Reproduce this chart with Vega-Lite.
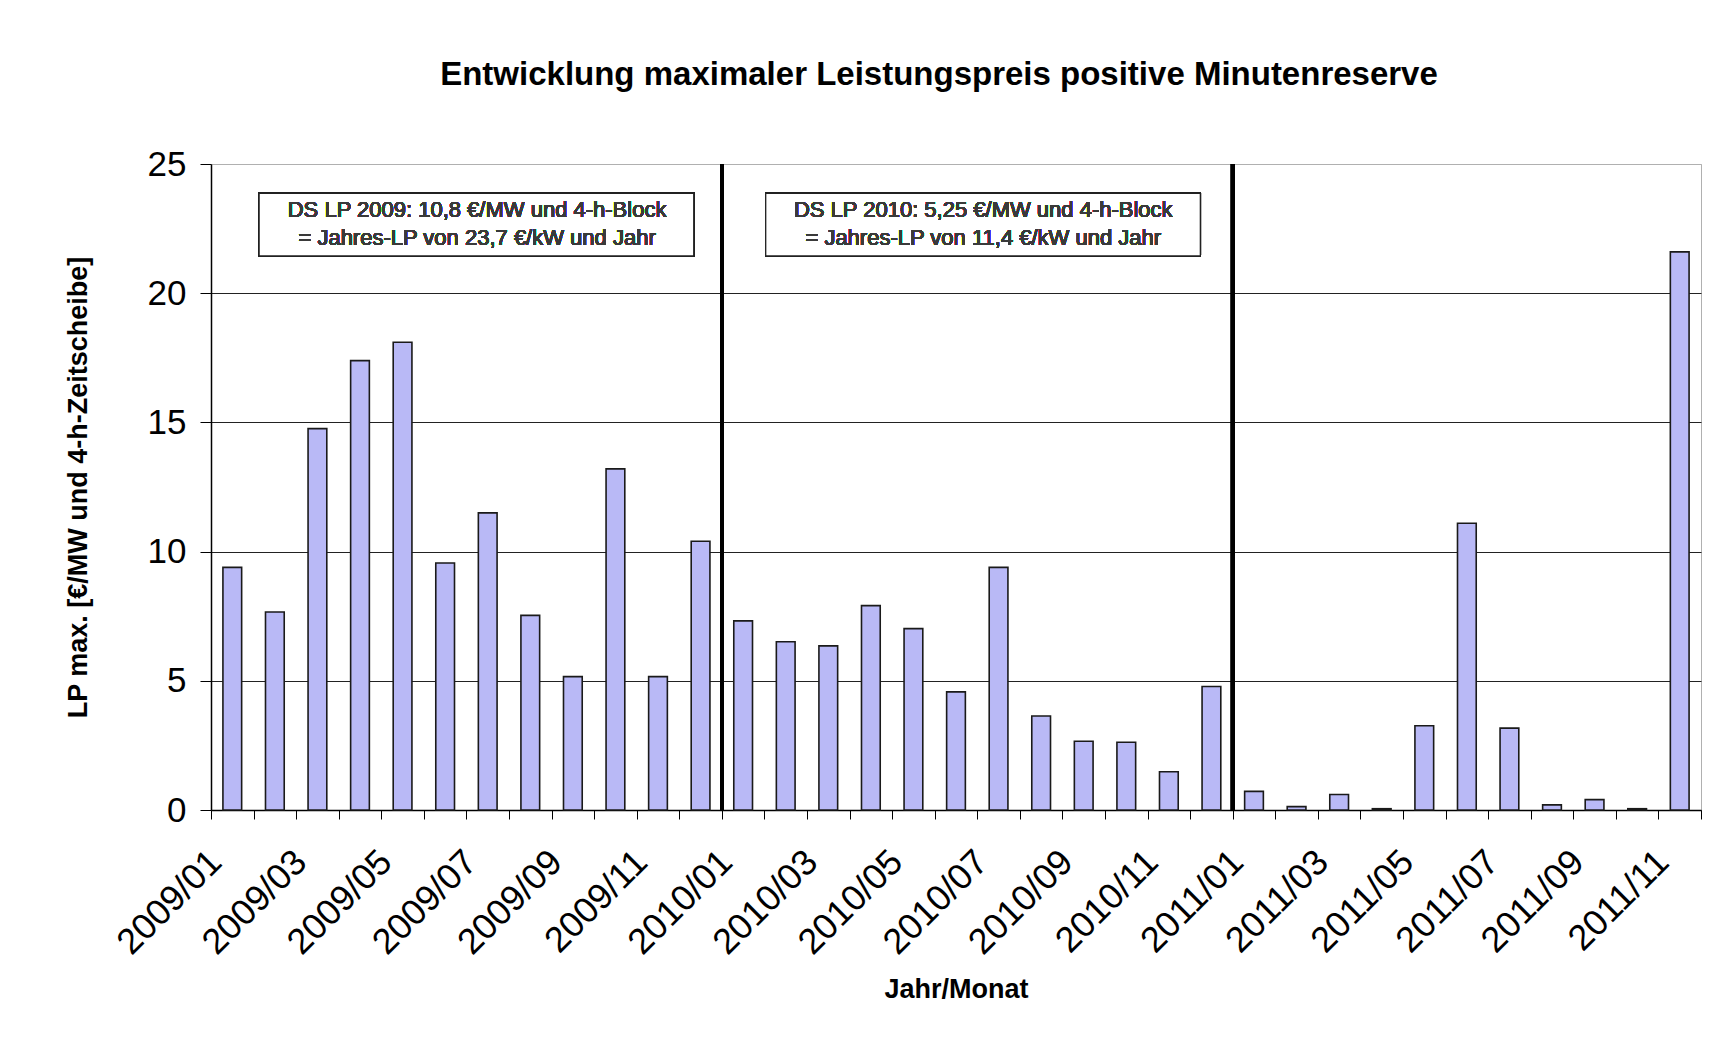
{
  "$schema": "https://vega.github.io/schema/vega-lite/v6.json",
  "autosize": {"type": "none"},
  "padding": {"left": 211, "top": 164, "right": 14, "bottom": 239},
  "width": 1490,
  "height": 646,
  "background": "white",
  "config": {
    "font": "Liberation Sans",
    "view": {"stroke": "#b0b0b0", "strokeWidth": 1}
  },
  "title": {
    "text": "Entwicklung maximaler Leistungspreis positive Minutenreserve",
    "font": "Liberation Sans",
    "fontSize": 33,
    "fontWeight": "bold",
    "color": "#000000",
    "anchor": "middle",
    "offset": 55,
    "dx": -17
  },
  "data": {
    "values": [
      {"monat": "2009/01", "lp": 9.39},
      {"monat": "2009/02", "lp": 7.66},
      {"monat": "2009/03", "lp": 14.76},
      {"monat": "2009/04", "lp": 17.39},
      {"monat": "2009/05", "lp": 18.1},
      {"monat": "2009/06", "lp": 9.56},
      {"monat": "2009/07", "lp": 11.5},
      {"monat": "2009/08", "lp": 7.53},
      {"monat": "2009/09", "lp": 5.16},
      {"monat": "2009/10", "lp": 13.2},
      {"monat": "2009/11", "lp": 5.16},
      {"monat": "2009/12", "lp": 10.4},
      {"monat": "2010/01", "lp": 7.32},
      {"monat": "2010/02", "lp": 6.51},
      {"monat": "2010/03", "lp": 6.35},
      {"monat": "2010/04", "lp": 7.91},
      {"monat": "2010/05", "lp": 7.02},
      {"monat": "2010/06", "lp": 4.57},
      {"monat": "2010/07", "lp": 9.39},
      {"monat": "2010/08", "lp": 3.64},
      {"monat": "2010/09", "lp": 2.66},
      {"monat": "2010/10", "lp": 2.62},
      {"monat": "2010/11", "lp": 1.48},
      {"monat": "2010/12", "lp": 4.78},
      {"monat": "2011/01", "lp": 0.72},
      {"monat": "2011/02", "lp": 0.13},
      {"monat": "2011/03", "lp": 0.6},
      {"monat": "2011/04", "lp": 0.05},
      {"monat": "2011/05", "lp": 3.26},
      {"monat": "2011/06", "lp": 11.1},
      {"monat": "2011/07", "lp": 3.17},
      {"monat": "2011/08", "lp": 0.2},
      {"monat": "2011/09", "lp": 0.4},
      {"monat": "2011/10", "lp": 0.05},
      {"monat": "2011/11", "lp": 21.6}
    ]
  },
  "layer": [
    {
      "mark": {"type": "bar", "fill": "#b9b9f6", "stroke": "#1a1a1a", "strokeWidth": 1.6, "width": {"band": 0.44}},
      "encoding": {
        "x": {
          "field": "monat",
          "type": "ordinal",
          "scale": {"paddingInner": 0, "paddingOuter": 0},
          "axis": {
            "title": "Jahr/Monat",
            "titleFont": "Liberation Sans",
            "titleFontSize": 27,
            "titleFontWeight": "bold",
            "titleColor": "#000000",
            "titlePadding": 16,
            "labelFont": "Liberation Sans",
            "labelFontSize": 36,
            "labelColor": "#000000",
            "labelAngle": -45,
            "labelPadding": 25,
            "labelOffset": -29,
            "labelOverlap": false,
            "labelExpr": "toNumber(substring(datum.value, 5, 7)) % 2 == 1 ? datum.value : ''",
            "tickBand": "extent",
            "tickColor": "#000000",
            "tickSize": 9,
            "domainColor": "#000000",
            "domainWidth": 1.5,
            "grid": false
          }
        },
        "y": {
          "field": "lp",
          "type": "quantitative",
          "scale": {"domain": [0, 25], "nice": false},
          "axis": {
            "title": "LP max. [€/MW und 4-h-Zeitscheibe]",
            "titleFont": "Liberation Sans",
            "titleFontSize": 27,
            "titleFontWeight": "bold",
            "titleColor": "#000000",
            "titlePadding": 55,
            "labelFont": "Liberation Sans",
            "labelFontSize": 35,
            "labelColor": "#000000",
            "labelPadding": 14,
            "values": [0, 5, 10, 15, 20, 25],
            "tickColor": "#000000",
            "tickSize": 11,
            "domainColor": "#000000",
            "domainWidth": 1.5,
            "grid": true,
            "gridColor": {"condition": {"test": "datum.value === 25", "value": "#b0b0b0"}, "value": "#222222"},
            "gridWidth": 1.2
          }
        }
      }
    },
    {
      "mark": {"type": "rule", "color": "#000000", "strokeWidth": 3.5},
      "encoding": {"x": {"datum": "2010/01", "bandPosition": 0}}
    },
    {
      "mark": {"type": "rule", "color": "#000000", "strokeWidth": 3.5},
      "encoding": {"x": {"datum": "2011/01", "bandPosition": 0}}
    },
    {
      "mark": {"type": "rect", "fill": "white", "stroke": "#222222", "strokeWidth": 1.3},
      "encoding": {
        "x": {"datum": "2009/02", "bandPosition": 0.13},
        "x2": {"datum": "2009/12", "bandPosition": 0.34},
        "y": {"datum": 23.86},
        "y2": {"datum": 21.44}
      }
    },
    {
      "mark": {"type": "rect", "fill": "white", "stroke": "#222222", "strokeWidth": 1.3},
      "encoding": {
        "x": {"datum": "2010/02", "bandPosition": 0.03},
        "x2": {"datum": "2010/12", "bandPosition": 0.24},
        "y": {"datum": 23.86},
        "y2": {"datum": 21.44}
      }
    },
    {
      "mark": {"type": "text", "font": "Liberation Sans", "fontSize": 22, "fontWeight": 400, "fill": "#3a3a3a", "align": "center", "baseline": "middle", "lineHeight": 28},
      "encoding": {
        "x": {"datum": "2009/07", "bandPosition": 0.25},
        "y": {"datum": 23.22},
        "text": {"value": ["DS LP 2009: 10,8 €/MW und 4-h-Block", "= Jahres-LP von 23,7 €/kW und Jahr"]}
      }
    },
    {
      "mark": {"type": "text", "font": "Liberation Sans", "fontSize": 22, "fontWeight": 400, "fill": "#3a3a3a", "align": "center", "baseline": "middle", "lineHeight": 28},
      "encoding": {
        "x": {"datum": "2010/07", "bandPosition": 0.14},
        "y": {"datum": 23.22},
        "text": {"value": ["DS LP 2010: 5,25 €/MW und 4-h-Block", "= Jahres-LP von 11,4 €/kW und Jahr"]}
      }
    }
  ]
}
